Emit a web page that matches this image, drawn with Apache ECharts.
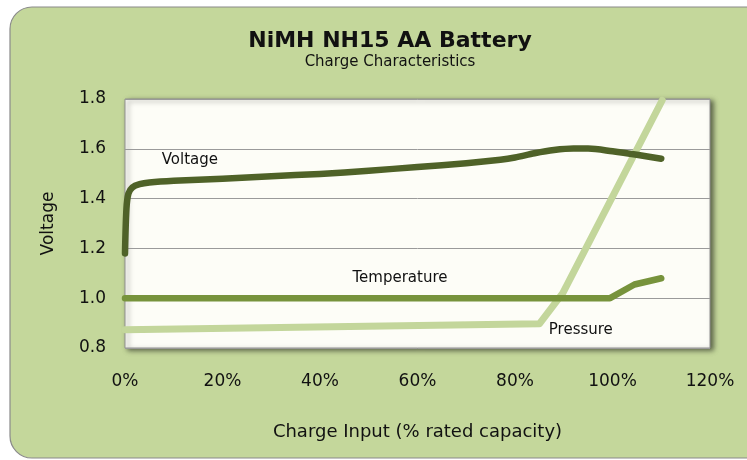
<!DOCTYPE html>
<html>
<head>
<meta charset="utf-8">
<script src="https://cdn.jsdelivr.net/npm/echarts@6/dist/echarts.min.js"></script>
<style>html,body{margin:0;padding:0;background:#fff;}#c{width:747px;height:460px;}</style>
</head>
<body>
<div id="c"></div>
<script>
const titleText = 'NiMH NH15 AA Battery';
const subtitleText = 'Charge Characteristics';
const xTicks = [0, 20, 40, 60, 80, 100, 120];
const yTicks = [0.8, 1.0, 1.2, 1.4, 1.6, 1.8];
const voltage = [[0,1.18],[0.3,1.36],[0.7,1.42],[1.5,1.445],[3,1.458],[5,1.465],[10,1.472],[20,1.48],[30,1.49],[40,1.499],[50,1.512],[60,1.527],[70,1.542],[77,1.556],[80,1.565],[84,1.582],[88,1.595],[92,1.601],[95,1.601],[100,1.59],[105,1.576],[110,1.56]];
const temperature = [[0,1.0],[99.5,1.0],[104.5,1.055],[110,1.08]];
const pressure = [[0,0.873],[85,0.897],[89.8,1.02],[110.2,1.795]];
const seriesLabels = [
  {name:'Voltage', at:[13.3,1.556]},
  {name:'Temperature', at:[56.4,1.082]},
  {name:'Pressure', at:[93.5,0.872]}
];

const chart = echarts.init(document.getElementById('c'), null, {renderer:'canvas'});
const axisFont = 'Tahoma, "DejaVu Sans", sans-serif';
const lblFont = 'Verdana, "DejaVu Sans", sans-serif';
function mp(i){
  const s = seriesLabels[i];
  return {symbol:'circle', symbolSize:0, silent:true,
    data:[{coord:s.at, value:s.name,
      label:{show:true, position:'inside', formatter:s.name, color:'#111', fontFamily:lblFont, fontSize:15}}]};
}
chart.setOption({
  animation:false,
  backgroundColor:'#ffffff',
  graphic:[{type:'rect', z:-10, silent:true,
    shape:{x:10, y:7, width:770, height:451, r:22},
    style:{fill:'#c4d79b', stroke:'#8a8a8a', lineWidth:1.2}}],
  title:{text:titleText, subtext:subtitleText, left:385, textAlign:'center', top:25, itemGap:3,
    textStyle:{fontFamily:axisFont, fontWeight:'bold', fontSize:22, color:'#111'},
    subtextStyle:{fontFamily:axisFont, fontSize:15, color:'#111'}},
  grid:{left:125, right:37, top:99, bottom:112, show:true, backgroundColor:'#fdfdf7',
    borderColor:'#909090', borderWidth:1,
    shadowColor:'rgba(0,0,0,0.55)', shadowBlur:5, shadowOffsetX:3, shadowOffsetY:2},
  xAxis:{type:'value', min:xTicks[0], max:xTicks[xTicks.length-1], interval:20,
    name:'Charge Input (% rated capacity)', nameLocation:'middle', nameGap:75,
    nameTextStyle:{fontFamily:axisFont, fontSize:18, color:'#111'},
    axisLine:{show:false}, axisTick:{show:false}, splitLine:{show:false},
    axisLabel:{formatter:'{value}%', margin:25, fontFamily:axisFont, fontSize:17, color:'#111'}},
  yAxis:{type:'value', min:yTicks[0], max:yTicks[yTicks.length-1], interval:0.2,
    name:'Voltage', nameLocation:'middle', nameGap:68, nameRotate:90,
    nameTextStyle:{fontFamily:axisFont, fontSize:17, color:'#111'},
    axisLine:{show:false}, axisTick:{show:false},
    splitLine:{lineStyle:{color:'#9a9a9a', width:1}},
    axisLabel:{formatter:v=>v.toFixed(1), margin:19, fontFamily:axisFont, fontSize:17, color:'#111'}},
  series:[
    {name:'Pressure', type:'line', data:pressure, showSymbol:false, z:2,
     lineStyle:{color:'#c3d69b', width:7, cap:'round', join:'round'}, markPoint:mp(2)},
    {name:'Temperature', type:'line', data:temperature, showSymbol:false, z:3,
     lineStyle:{color:'#77933c', width:6.5, cap:'round', join:'round'}, markPoint:mp(1)},
    {name:'Voltage', type:'line', data:voltage, showSymbol:false, smooth:0.3, z:4,
     lineStyle:{color:'#4f6228', width:6.5, cap:'round', join:'round'}, markPoint:mp(0)}
  ]
});
</script>
</body>
</html>
